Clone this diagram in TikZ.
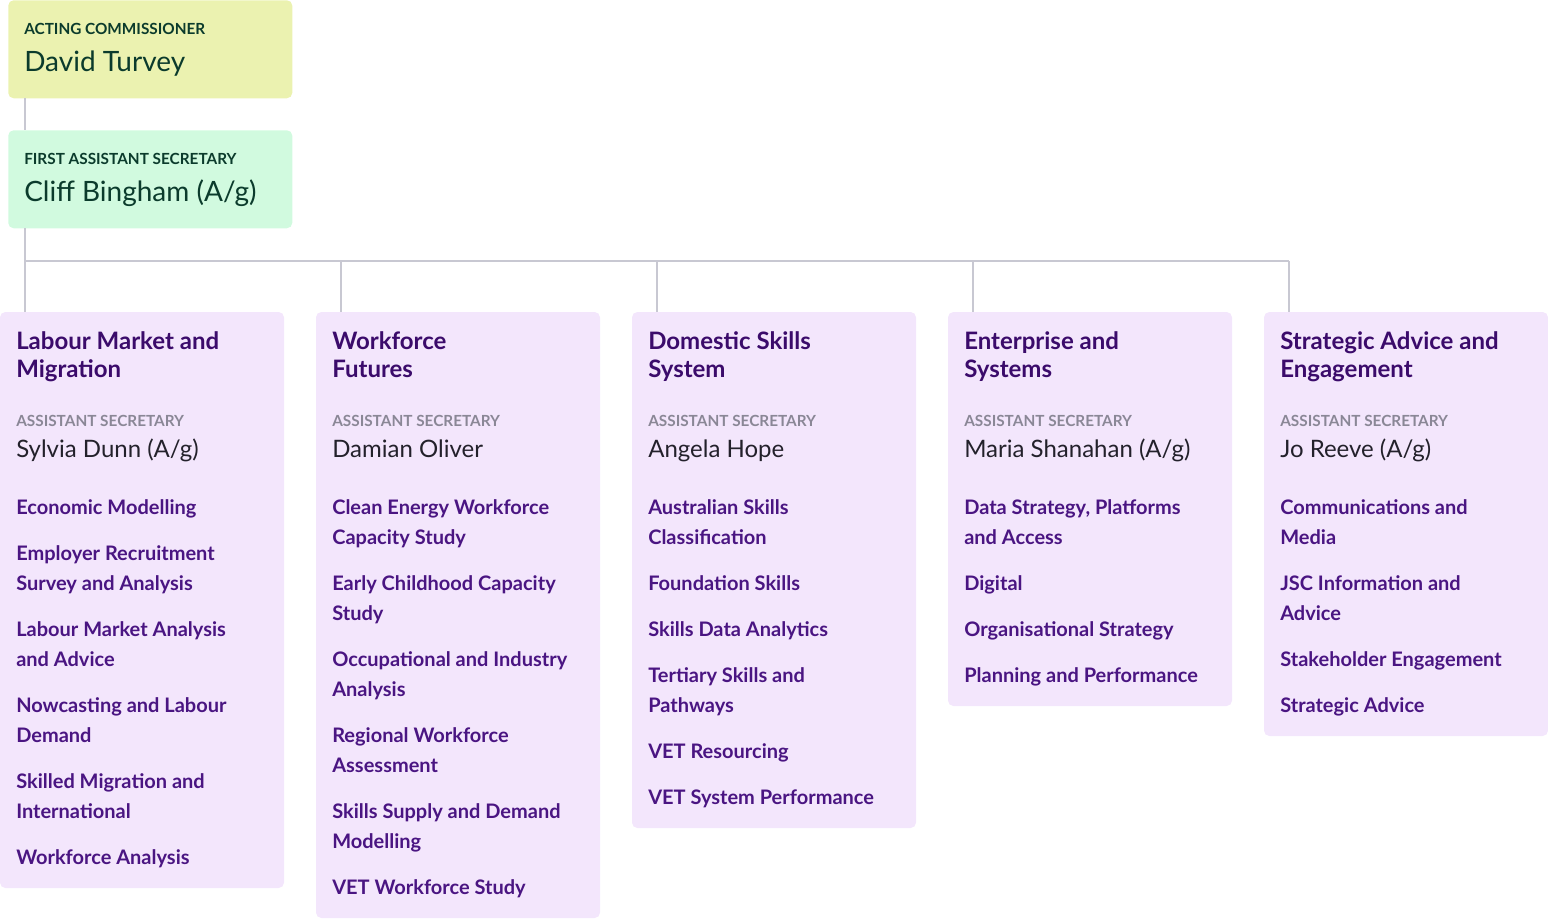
\documentclass[tikz,border=0pt]{standalone}
\usepackage{fontspec}
\setmainfont{Lato}
\definecolor{topbg}{HTML}{EBF2B0}
\definecolor{secbg}{HTML}{D1FADF}
\definecolor{colbg}{HTML}{F3E6FC}
\definecolor{darkgreen}{HTML}{0B3B2C}
\definecolor{ttl}{HTML}{3B0B6B}
\definecolor{itm}{HTML}{4A1582}
\definecolor{lbl}{HTML}{8A8796}
\definecolor{nm}{HTML}{23212B}
\definecolor{ln}{HTML}{C8C8D2}
\tikzset{
 x=0.75pt,y=-0.75pt,
 box/.style={fill=#1,rounded corners=4pt,draw=none},
 txt/.style={anchor=base west,inner sep=0pt,align=left},
 toplbl/.style={txt,text=darkgreen,font=\fontsize{11.5}{13}\selectfont\bfseries},
 topnm/.style={txt,text=darkgreen,font=\fontsize{21}{24}\selectfont},
 ttlst/.style={txt,text=ttl,font=\fontsize{18}{21}\selectfont\bfseries},
 aslbl/.style={txt,text=lbl,font=\fontsize{11.5}{13}\selectfont\bfseries},
 asnm/.style={txt,text=nm,font=\fontsize{18}{21}\selectfont},
 item/.style={txt,text=itm,font=\fontsize{15}{22.5}\selectfont\bfseries},
 conn/.style={draw=ln,line width=1.5pt}
}
\begin{document}
\begin{tikzpicture}
\useasboundingbox (0,0) rectangle (1548,918);
\node[box=topbg,minimum width=213pt,minimum height=73.5pt,anchor=north west] (top) at (8,0) {};
\node[toplbl] (toplabel) at (24,34) {ACTING COMMISSIONER};
\node[topnm] (topname) at (24,71) {David Turvey};
\node[box=secbg,minimum width=213pt,minimum height=73.5pt,anchor=north west] (sec) at (8,130) {};
\node[toplbl] (seclabel) at (24,164) {FIRST ASSISTANT SECRETARY};
\node[topnm] (secname) at (24,201) {Cliff Bingham (A/g)};
\coordinate (t1) at (25,98); \coordinate (t2) at (25,130);
\draw[conn] (t1) -- (t2);
\coordinate (bus0) at (25,228);
\coordinate (busL) at (25,261); \coordinate (busR) at (1289,261);
\draw[conn] (bus0) -- (busL) -- (busR);
\foreach \i/\x/\b in {1/0/888,2/316/918,3/632/828,4/948/706,5/1264/736}{
  \path[box=colbg] (\x,312) rectangle (\x+284,\b);
  \coordinate (d\i) at (\x+25,261);
  \coordinate (e\i) at (\x+25,312);
  \draw[conn] (d\i) -- (e\i);
  \node[aslbl] (as\i) at (\x+16,426) {ASSISTANT SECRETARY};
}
% column 1
\node[ttlst] (t1a) at (16,377) {Labour Market and\\Migration};
\node[asnm] (n1) at (16,457) {Sylvia Dunn (A/g)};
\foreach \y/\n/\t in {507/0/{Economic Modelling},553/1/{Employer Recruitment\\Survey and Analysis},629/1/{Labour Market Analysis\\and Advice},705/1/{Nowcasting and Labour\\Demand},781/1/{Skilled Migration and\\International},857/0/{Workforce Analysis}}
  \node[item] (a\y) at (16,\y+7+30*\n) {\t};
% column 2
\node[ttlst] (t2a) at (332,377) {Workforce\\Futures};
\node[asnm] (n2) at (332,457) {Damian Oliver};
\foreach \y/\n/\t in {507/1/{Clean Energy Workforce\\Capacity Study},583/1/{Early Childhood Capacity\\Study},659/1/{Occupational and Industry\\Analysis},735/1/{Regional Workforce\\Assessment},811/1/{Skills Supply and Demand\\Modelling},887/0/{VET Workforce Study}}
  \node[item] (b\y) at (332,\y+7+30*\n) {\t};
% column 3
\node[ttlst] (t3a) at (648,377) {Domestic Skills\\System};
\node[asnm] (n3) at (648,457) {Angela Hope};
\foreach \y/\n/\t in {507/1/{Australian Skills\\Classification},583/0/{Foundation Skills},629/0/{Skills Data Analytics},675/1/{Tertiary Skills and\\Pathways},751/0/{VET Resourcing},797/0/{VET System Performance}}
  \node[item] (c\y) at (648,\y+7+30*\n) {\t};
% column 4
\node[ttlst] (t4a) at (964,377) {Enterprise and\\Systems};
\node[asnm] (n4) at (964,457) {Maria Shanahan (A/g)};
\foreach \y/\n/\t in {507/1/{Data Strategy, Platforms\\and Access},583/0/{Digital},629/0/{Organisational Strategy},675/0/{Planning and Performance}}
  \node[item] (f\y) at (964,\y+7+30*\n) {\t};
% column 5
\node[ttlst] (t5a) at (1280,377) {Strategic Advice and\\Engagement};
\node[asnm] (n5) at (1280,457) {Jo Reeve (A/g)};
\foreach \y/\n/\t in {507/1/{Communications and\\Media},583/1/{JSC Information and\\Advice},659/0/{Stakeholder Engagement},705/0/{Strategic Advice}}
  \node[item] (g\y) at (1280,\y+7+30*\n) {\t};
\end{tikzpicture}
\end{document}
